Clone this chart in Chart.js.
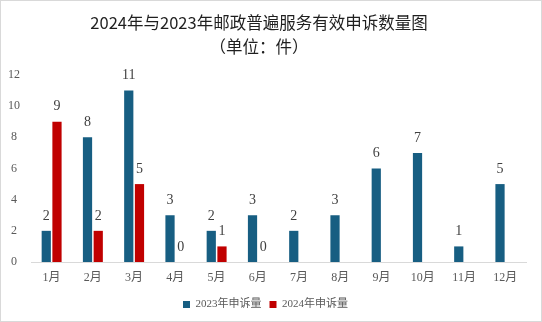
<!DOCTYPE html>
<html>
<head>
<meta charset="utf-8">
<script src="https://cdn.jsdelivr.net/npm/chart.js@4/dist/chart.umd.min.js"></script>
<style>
  html, body { margin: 0; padding: 0; background: #fff; }
  #box { width: 542px; height: 322px; box-sizing: border-box; border: 1px solid #d9d9d9; position: relative; }
  #box canvas { display: block; }
</style>
</head>
<body>
<div id="box"><canvas id="chart"></canvas></div>
<script>
const months = ['1月', '2月', '3月', '4月', '5月', '6月', '7月', '8月', '9月', '10月', '11月', '12月'];
const counts2023 = [2, 8, 11, 3, 2, 3, 2, 3, 6, 7, 1, 5];
const counts2024 = [9, 2, 5, 0, 1, 0, null, null, null, null, null, null];
const seriesNames = ['2023年申诉量', '2024年申诉量'];
const titleLines = ['2024年与2023年邮政普遍服务有效申诉数量图', '（单位：件）'];

const serif = '"Liberation Serif", "DejaVu Serif", "Noto Sans CJK SC", serif';
const cjk = '"Noto Sans CJK SC", sans-serif';

// two-line heading, centred on the whole picture rather than the padded chart
const heading = {
  id: 'heading',
  afterDraw(chart) {
    const ctx = chart.ctx;
    ctx.save();
    ctx.font = '16.5px ' + cjk;
    ctx.fillStyle = '#1f1f1f';
    ctx.textAlign = 'center';
    ctx.textBaseline = 'middle';
    ctx.fillText(titleLines[0], 258, 21.5);
    ctx.fillText(titleLines[1], 258, 46);
    ctx.restore();
  }
};

// simple value labels above each bar
const barLabels = {
  id: 'barLabels',
  afterDatasetsDraw(chart) {
    const ctx = chart.ctx;
    ctx.save();
    ctx.font = '14px ' + serif;
    ctx.fillStyle = '#404040';
    ctx.textAlign = 'center';
    ctx.textBaseline = 'bottom';
    chart.data.datasets.forEach((ds, i) => {
      const meta = chart.getDatasetMeta(i);
      meta.data.forEach((bar, j) => {
        const v = ds.data[j];
        if (v === null || v === undefined) return;
        ctx.fillText(String(v), bar.x, bar.y - 8);
      });
    });
    ctx.restore();
  }
};

new Chart(document.getElementById('chart'), {
  type: 'bar',
  data: {
    labels: months,
    datasets: [
      { label: seriesNames[0], data: counts2023, backgroundColor: '#175e82', categoryPercentage: 0.52, barPercentage: 0.86 },
      { label: seriesNames[1], data: counts2024, backgroundColor: '#c00000', categoryPercentage: 0.52, barPercentage: 0.86 }
    ]
  },
  options: {
    responsive: true,
    maintainAspectRatio: false,
    animation: false,
    layout: { padding: { left: 4, right: 15, top: 74, bottom: 1 } },
    plugins: {
      title: { display: false },
      legend: {
        position: 'bottom',
        labels: {
          boxWidth: 7,
          boxHeight: 7,
          padding: 8,
          color: '#595959',
          font: { family: serif, size: 11 }
        }
      },
      tooltip: { enabled: false }
    },
    scales: {
      x: {
        afterFit: scale => { scale.height = 29; },
        grid: { display: false },
        border: { color: '#d9d9d9' },
        ticks: { color: '#595959', padding: 1, maxRotation: 0, font: { family: serif, size: 12 } }
      },
      y: {
        min: 0,
        max: 12,
        afterFit: scale => { scale.width = 26; },
        grid: { display: false },
        border: { display: false },
        ticks: { stepSize: 2, color: '#595959', crossAlign: 'center', font: { family: serif, size: 12 } }
      }
    }
  },
  plugins: [barLabels, heading]
});
</script>
</body>
</html>
